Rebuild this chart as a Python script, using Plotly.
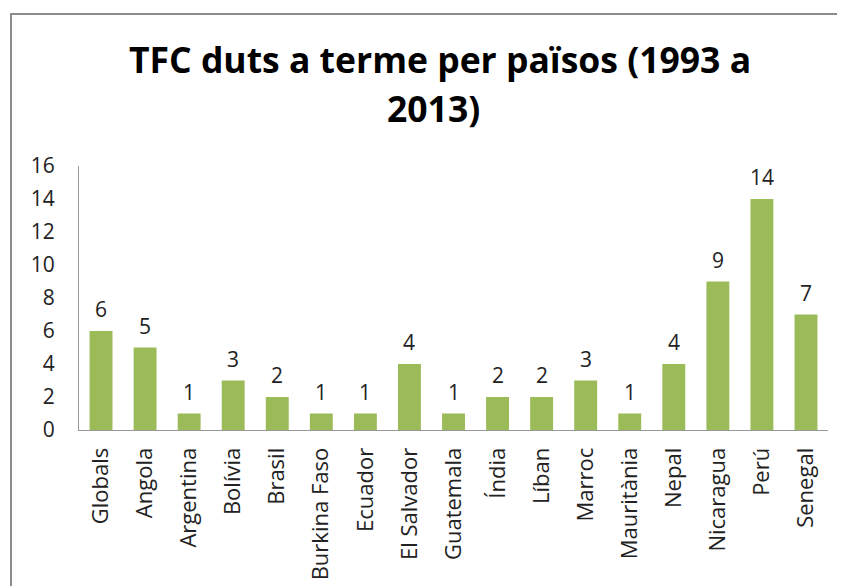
import plotly.graph_objects as go

categories = ["Globals", "Angola", "Argentina", "Bolívia", "Brasil", "Burkina Faso",
              "Ecuador", "El Salvador", "Guatemala", "Índia", "Líban", "Marroc",
              "Mauritània", "Nepal", "Nicaragua", "Perú", "Senegal"]
values = [6, 5, 1, 3, 2, 1, 1, 4, 1, 2, 2, 3, 1, 4, 9, 14, 7]
y_ticks = [0, 2, 4, 6, 8, 10, 12, 14, 16]
title_lines = ["TFC duts a terme per països (1993 a", "2013)"]

FONT = "Open Sans"
PL, PT, PR, PB = 71, 158, 820, 422  # plot area in figure pixels
fig = go.Figure()
fig.add_trace(go.Bar(x=categories, y=values, marker=dict(color="#9BBB59", line=dict(width=0)),
                     hoverinfo="x+y"))

for c, v in zip(categories, values):
    fig.add_annotation(x=c, y=v, text=str(v), showarrow=False, yanchor="bottom",
                       yshift=6, font=dict(family=FONT, size=21, color="#222"))

# two-line chart title
for line, (cx, cy) in zip(title_lines, [(432, 51), (425, 100)]):
    fig.add_annotation(xref="paper", yref="paper",
                       x=(cx - PL) / (PR - PL), y=(PB - cy) / (PB - PT),
                       xanchor="center", yanchor="middle", showarrow=False,
                       text="<b>" + line + "</b>",
                       font=dict(family=FONT, size=35.5, color="black"))

fig.update_layout(
    width=845, height=586,
    margin=dict(l=PL, r=845 - PR, t=PT, b=586 - PB),
    paper_bgcolor="white", plot_bgcolor="white",
    bargap=0.48,
    showlegend=False,
    xaxis=dict(tickangle=-90, tickfont=dict(family=FONT, size=22, color="#222"),
               showline=True, linecolor="#999", linewidth=1, ticks="", showgrid=False,
               ticklabelstandoff=8),
    yaxis=dict(range=[0, 16], tickvals=y_ticks, tickfont=dict(family=FONT, size=21, color="#222"),
               showline=True, linecolor="#999", linewidth=1, ticks="", showgrid=False,
               zeroline=False, ticklabelstandoff=19),
    shapes=[dict(type="rect", xref="paper", yref="paper",
                 x0=(3 - PL) / (PR - PL), x1=1.2, y0=-1.0, y1=(PB - 6) / (PB - PT),
                 line=dict(color="#8c8c8c", width=2))],
)

fig.write_html("out.html")
